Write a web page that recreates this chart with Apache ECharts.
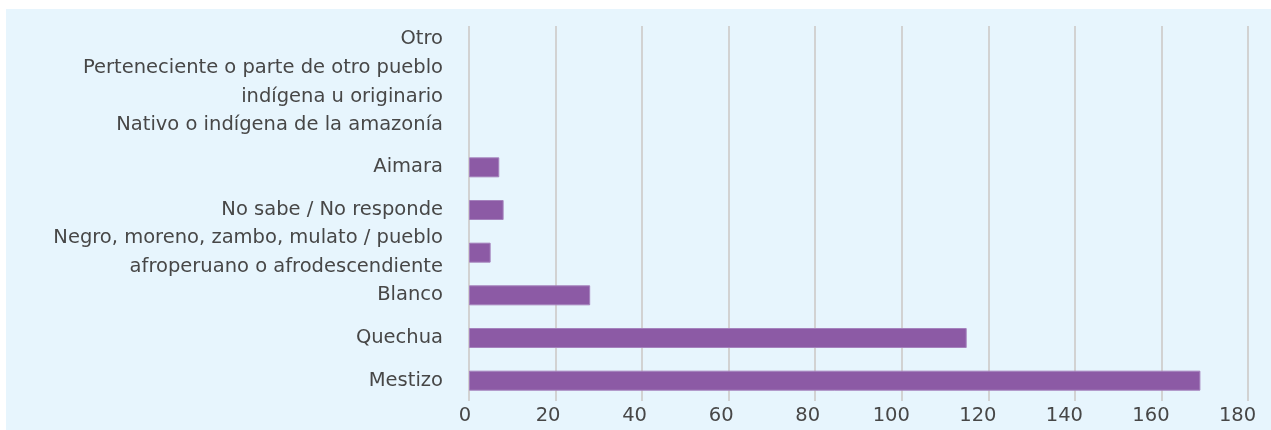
<!DOCTYPE html>
<html>
<head>
<meta charset="utf-8">
<script src="https://cdn.jsdelivr.net/npm/echarts@6/dist/echarts.min.js"></script>
<style>
html,body{margin:0;padding:0;background:#ffffff;}
#chart{position:absolute;left:6px;top:9px;width:1265px;height:421px;}
</style>
</head>
<body>
<div id="chart"></div>
<script>
var categories = [
  "Mestizo",
  "Quechua",
  "Blanco",
  "Negro, moreno, zambo, mulato / pueblo\nafroperuano o afrodescendiente",
  "No sabe / No responde",
  "Aimara",
  "Nativo o indígena de la amazonía",
  "Perteneciente o parte de otro pueblo\nindígena u originario",
  "Otro"
];
var values = [169, 115, 28, 5, 8, 7, 0, 0, 0];
var xTicks = [0, 20, 40, 60, 80, 100, 120, 140, 160, 180];

var FONT = '"DejaVu Sans"';
var FS = 19.5;
var TXT = '#474747';
var chart = echarts.init(document.getElementById('chart'));
chart.setOption({
  backgroundColor: '#e7f5fd',
  animation: false,
  grid: [
    {left: 463, right: 23, top: 9, bottom: 28, containLabel: false},
    {left: 463, right: 23, top: 17, bottom: 29, containLabel: false}
  ],
  xAxis: [
    {gridIndex: 0, type: 'value', min: xTicks[0], max: xTicks[xTicks.length-1], interval: 20,
     axisLine: {show: false}, axisTick: {show: false}, axisLabel: {show: false}, splitLine: {show: false}},
    {gridIndex: 1, type: 'value', min: xTicks[0], max: xTicks[xTicks.length-1], interval: 20,
     axisLine: {show: false}, axisTick: {show: false},
     axisLabel: {show: true, color: TXT, fontFamily: FONT, fontSize: FS, margin: 5,
       formatter: function (v) {
         var s = String(v);
         return '{d' + s.length + '|' + s + '}';
       },
       rich: {
         d1: {fontFamily: FONT, fontSize: FS, color: TXT, padding: [0, 8, 0, 0]},
         d2: {fontFamily: FONT, fontSize: FS, color: TXT, padding: [0, 15, 0, 0]},
         d3: {fontFamily: FONT, fontSize: FS, color: TXT, padding: [0, 21, 0, 0]}
       }},
     splitLine: {show: true, lineStyle: {color: '#d2d2d2', width: 2}}}
  ],
  yAxis: [
    {gridIndex: 0, type: 'category', data: categories,
     axisLine: {show: false}, axisTick: {show: false},
     axisLabel: {interval: 0, color: TXT, fontFamily: FONT, fontSize: FS, lineHeight: 29, margin: 26, align: 'right'}},
    {gridIndex: 1, type: 'category', data: categories, show: false}
  ],
  series: [
    {type: 'bar', xAxisIndex: 0, yAxisIndex: 0, barWidth: 20,
     data: values.map(function (v) {
       return {value: v, itemStyle: {borderWidth: v > 0 ? 1 : 0}};
     }),
     itemStyle: {color: '#8c5aa5', borderColor: '#a582bd'}}
  ]
});
</script>
</body>
</html>
